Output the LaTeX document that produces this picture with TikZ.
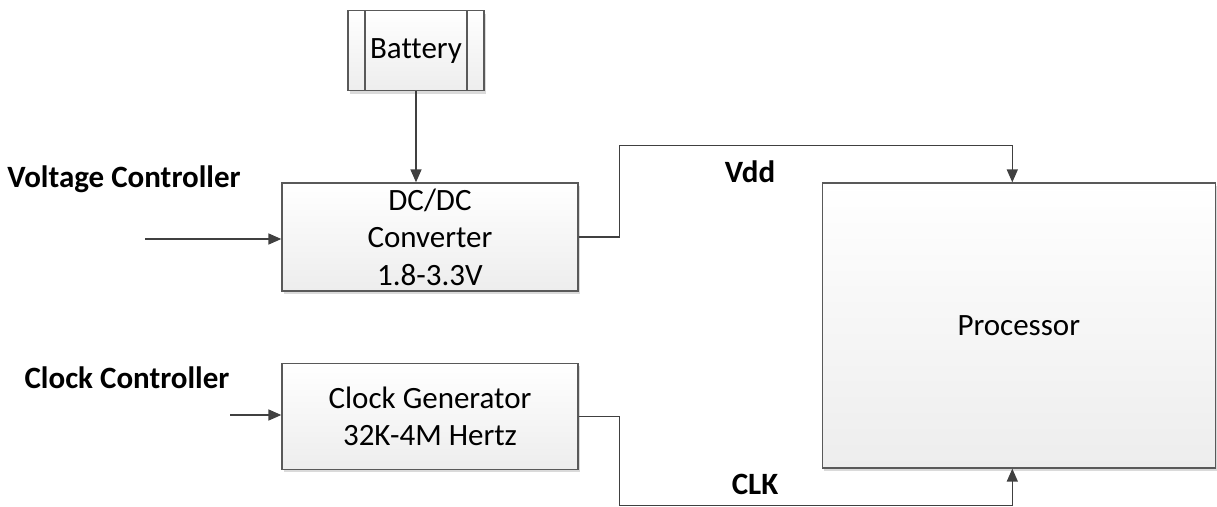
\documentclass[tikz,border=0pt]{standalone}
\usepackage{fontspec}
\setmainfont{Carlito}[Ligatures={NoCommon}]
\usepackage{tikz}
\usetikzlibrary{arrows.meta,positioning,calc,shadows}
\definecolor{EdgeGray}{HTML}{595959}
\definecolor{WireGray}{HTML}{404040}
\definecolor{FillGray}{HTML}{EDEDED}
\definecolor{ShadowGray}{HTML}{DADADA}

\begin{document}
\begin{tikzpicture}[
  x=1pt,y=-1pt,
  block/.style={draw=EdgeGray,line width=1.3pt,top color=white,bottom color=FillGray,
    drop shadow={shadow xshift=2pt,shadow yshift=-3pt,fill=ShadowGray,opacity=1},
    align=center,inner sep=0pt,font=\fontsize{31}{37.5}\selectfont},
  process/.style={block,path picture={
    \draw[EdgeGray,line width=1.3pt]
      ([xshift=17pt]path picture bounding box.north west) -- ([xshift=17pt]path picture bounding box.south west)
      ([xshift=-17pt]path picture bounding box.north east) -- ([xshift=-17pt]path picture bounding box.south east);}},
  bus/.style={draw=WireGray,line width=1.5pt},
  feed/.style={bus,-{Triangle[length=13pt,width=11pt]}},
  tag/.style={font=\fontsize{31}{37.5}\selectfont\bfseries,inner sep=0pt,anchor=base},
  node distance=71pt
]
\useasboundingbox (0,0) rectangle (1217,506);
\node[block,minimum width=296pt,minimum height=108pt] (dcdc) at (430,237) {DC/DC\\Converter\\1.8-3.3V};
\node[process,minimum width=136pt,minimum height=80pt,above=91pt of dcdc,xshift=-14pt] (battery) {Battery};
\node[block,minimum width=296pt,minimum height=106pt,below=of dcdc] (clkgen) {Clock Generator\\32K-4M Hertz};
\node[block,minimum width=393pt,minimum height=285pt,right=243pt of dcdc.north east,anchor=north west] (proc) {Processor};

% control inputs
\node[tag] (vctl) at (124,187) {Voltage Controller};
\node[tag] (cctl) at (127,388) {Clock Controller};
\coordinate (vin) at (145,239);
\coordinate (cin) at (230,415);
\draw[feed] (vin) -- (vin -| dcdc.west);
\draw[feed] (cin) -- (cin -| clkgen.west);
\draw[feed] (battery.south) -- (battery.south |- dcdc.north);

% supply and clock to processor
\coordinate (vddin) at ([xshift=-6.5pt]proc.north);
\coordinate (clkin) at ([xshift=-6.5pt]proc.south);
\draw[feed] (dcdc.east) -- ++(41,0) |- ($(vddin)+(0,-37)$) -- (vddin);
\draw[feed] (clkgen.east) -- ++(41,0) |- ($(clkin)+(0,37)$) -- (clkin);
\node[tag] (vdd) at (750,182) {Vdd};
\node[tag] (clk) at (755,494) {CLK};
\end{tikzpicture}
\end{document}
